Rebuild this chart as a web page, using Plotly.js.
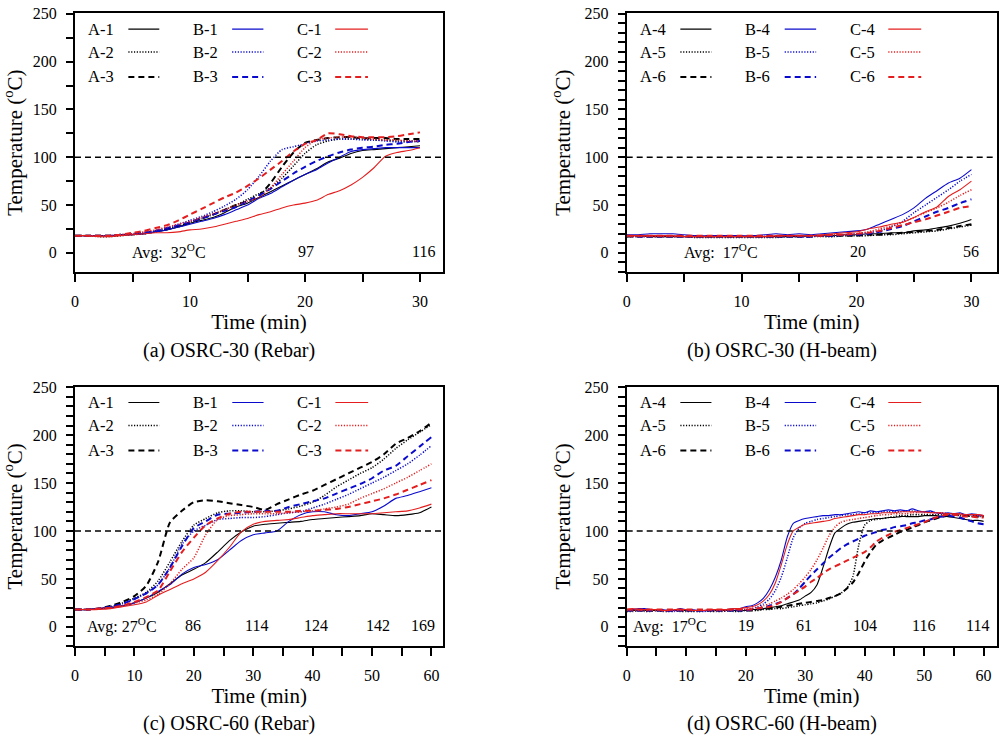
<!DOCTYPE html>
<html>
<head>
<meta charset="utf-8">
<script src="https://cdn.plot.ly/plotly-3.0.1.min.js"></script>
<style>html,body{margin:0;padding:0;background:#fff;}#chart{width:1005px;height:741px;}</style>
</head>
<body>
<div id="chart"></div>
<script>
// ---------- Data ----------
// (a) OSRC-30 (Rebar), time 0..30 min
const tA = [0,1,2,3,4,5,6,7,8,9,10,11,12,13,14,15,16,17,18,19,20,21,22,23,24,25,26,27,28,29,30];
const a_A1 = [18,18,18,18,19,19,20,22,24,27,31,34,37,42,48,52,58,64,70,76,82,88,95,99,104,107,108,109,110,111,112];
const a_A2 = [18,18,17,17,18,19,20,22,25,28,32,36,40,45,50,56,62,68,78,91,104,113,117,119,119,119,118,118,117,117,116];
const a_A3 = [18,18,18,18,19,20,21,23,25,28,32,36,40,45,50,54,60,73,90,105,115,118,120,121,121,120,120,120,119,119,119];
const a_B1 = [18,18,18,18,19,19,20,22,24,27,30,33,36,40,45,50,57,62,69,76,82,87,94,100,106,108,109,110,110,110,110];
const a_B2 = [18,18,18,18,19,20,21,23,26,30,34,38,43,49,56,66,80,96,108,111,114,117,118,119,119,118,118,117,116,116,117];
const a_B3 = [18,18,18,18,19,20,21,23,26,29,32,36,40,44,48,54,60,67,75,83,90,96,101,105,108,110,111,113,114,116,117];
const a_C1 = [18,18,17,17,18,19,20,21,21,22,24,25,27,30,33,36,40,43,47,50,52,55,61,65,71,79,89,101,105,107,110];
const a_C2 = [18,18,18,18,19,20,22,24,27,30,33,37,41,45,50,54,58,68,82,96,110,118,120,121,121,120,119,118,118,117,117];
const a_C3 = [18,18,18,18,19,21,23,26,29,34,40,46,52,58,63,70,78,87,96,106,114,118,125,124,122,121,121,121,122,124,126];

// (b) OSRC-30 (H-beam), time 0..30 min
const tB = [0,1,2,3,4,5,6,7,8,9,10,11,12,13,14,15,16,17,18,19,20,21,22,23,24,25,26,27,28,29,30];
const b_A4 = [18,18,17,17,17,17,17,17,17,17,17,17,17,17,17,17,18,18,18,19,19,20,20,21,21,23,24,26,28,31,35];
const b_A5 = [17,17,17,17,17,17,16,16,16,16,16,16,16,16,17,17,17,17,17,18,18,18,19,19,20,21,22,23,25,27,29];
const b_A6 = [17,17,17,17,17,17,17,17,17,17,17,17,17,17,17,17,17,18,18,18,18,19,19,20,21,22,23,24,26,28,30];
const b_B4 = [19,19,20,20,20,19,18,18,18,18,18,18,19,20,19,20,19,20,21,22,23,25,30,35,40,47,57,65,73,78,87];
const b_B5 = [17,17,17,17,17,17,17,17,17,17,17,17,17,17,17,17,17,18,18,19,20,21,23,27,33,42,50,58,66,75,82];
const b_B6 = [18,17,17,17,17,17,17,17,17,17,17,17,17,17,17,17,17,18,18,19,19,20,22,25,28,33,38,43,47,52,56];
const b_C4 = [18,18,18,18,18,17,17,17,17,17,17,17,17,18,18,18,18,19,20,21,22,25,27,30,32,37,43,48,59,66,75];
const b_C5 = [17,17,17,17,17,17,17,17,17,17,17,17,17,17,18,18,18,18,19,19,20,22,25,28,32,37,42,47,53,60,66];
const b_C6 = [18,18,18,18,18,18,18,18,18,18,18,18,18,18,18,18,18,18,19,19,20,21,23,26,29,32,35,39,43,47,49];

// (c) OSRC-60 (Rebar), time 0..60 min
const tC = [0,2,4,6,8,10,12,14,16,18,20,22,24,26,28,30,32,34,36,38,40,42,44,46,48,50,52,54,56,58,60];
const c_A1 = [18,18,19,20,22,25,30,36,45,54,60,67,78,90,99,105,107,108,109,110,112,113,114,115,116,118,117,116,117,119,125];
const c_A2 = [18,18,19,21,25,30,36,48,68,89,106,113,119,121,121,120,120,121,123,126,130,137,146,153,160,166,175,186,195,203,211];
const c_A3 = [18,18,19,22,26,32,43,68,109,121,130,132,131,129,127,125,122,128,133,138,142,148,154,160,166,172,180,191,197,204,213];
const c_B1 = [18,18,19,20,22,25,30,37,44,55,62,65,70,80,90,96,98,100,110,117,120,120,117,116,118,120,126,134,137,141,145];
const c_B2 = [18,18,19,21,24,29,35,44,62,86,100,106,112,113,114,114,115,117,119,120,124,128,133,138,144,150,156,163,170,179,189];
const c_B3 = [18,18,19,21,24,29,35,44,62,84,103,110,117,118,119,120,121,121,125,128,131,134,139,144,149,155,163,168,178,188,198];
const c_C1 = [18,18,18,19,21,23,26,33,39,45,50,57,69,83,99,107,110,111,112,114,116,117,118,118,118,118,119,120,121,124,128];
const c_C2 = [18,18,19,20,22,25,28,34,45,60,72,96,112,116,117,118,118,118,119,120,121,123,125,128,134,139,144,150,156,163,170];
const c_C3 = [18,18,19,20,22,26,31,38,58,78,93,106,113,118,120,120,120,120,120,121,121,122,123,125,128,131,134,138,143,148,153];

// (d) OSRC-60 (H-beam), time 0..60 min
const tD = [0,1,2,3,4,5,6,7,8,9,10,11,12,13,14,15,16,17,18,19,20,21,22,23,24,25,26,27,28,29,30,31,32,33,34,35,36,37,38,39,40,41,42,43,44,45,46,47,48,49,50,51,52,53,54,55,56,57,58,59,60];
const d_A4 = [17,17,17,17,17,17,17,17,17,17,17,17,17,17,17,17,17,17,17,17,17,18,18,19,20,21,22,24,26,28,32,36,44,62,82,98,103,107,109,110,111,112,113,113,114,114,115,115,115,115,116,116,116,115,115,114,113,112,111,111,110];
const d_A5 = [16,16,17,16,16,17,16,16,17,16,16,16,16,17,16,16,16,17,16,16,17,17,17,18,18,19,19,20,21,22,23,24,25,27,29,32,35,40,52,85,106,111,112,113,114,115,116,116,117,117,117,117,117,117,117,117,116,116,115,115,115];
const d_A6 = [17,17,17,17,17,17,17,17,17,17,17,17,17,17,17,17,17,17,17,17,17,17,18,19,19,20,21,22,23,24,25,26,27,28,30,32,35,40,46,56,68,78,86,90,93,96,99,101,104,106,109,111,113,115,116,117,117,116,116,115,115];
const d_B4 = [18,18,19,19,18,18,18,17,17,19,18,18,17,17,17,18,18,18,19,19,21,22,25,30,39,52,70,94,108,111,113,114,115,116,116,117,117,118,119,120,119,121,120,121,122,121,122,121,123,121,120,121,119,118,119,118,119,117,118,117,116];
const d_B5 = [17,17,17,17,17,17,17,16,16,17,17,17,16,16,17,17,17,17,17,18,18,19,21,24,29,38,52,72,93,103,108,110,112,113,114,115,116,117,117,118,119,119,119,120,120,120,120,121,121,120,120,120,119,119,118,118,118,117,117,116,116];
const d_B6 = [17,17,17,17,17,17,17,17,17,17,17,17,17,17,17,17,17,17,17,17,17,18,19,20,22,24,26,30,34,40,47,54,60,66,72,77,82,86,89,92,95,97,99,101,102,104,105,106,108,109,111,112,114,115,116,115,114,112,110,108,107];
const d_C4 = [18,19,18,18,18,18,17,17,18,18,18,17,17,17,18,18,18,18,19,19,20,21,23,27,34,46,65,86,100,104,107,108,109,110,111,113,114,115,116,117,117,118,118,119,119,119,120,120,120,120,120,119,119,119,118,118,118,117,117,117,116];
const d_C5 = [17,17,17,17,17,17,17,17,17,17,17,17,17,17,17,17,17,17,18,18,18,19,20,22,24,27,30,34,39,45,52,60,70,82,95,104,109,111,112,113,114,115,116,117,117,118,118,118,119,119,119,119,119,118,118,118,117,117,117,116,116];
const d_C6 = [18,18,18,18,18,18,18,18,18,18,18,18,18,18,18,18,18,18,18,18,18,18,19,20,21,23,26,30,34,38,42,47,51,56,60,63,66,69,72,75,78,83,89,93,96,99,101,103,105,107,109,112,114,116,117,117,116,115,115,114,114];

// Text
const captions = ['(a) OSRC-30 (Rebar)', '(b) OSRC-30 (H-beam)', '(c) OSRC-60 (Rebar)', '(d) OSRC-60 (H-beam)'];
const a_avgX = [8.2, 20.1, 30.3];          const a_avgT = ['Avg:&nbsp; 32<sup>O</sup>C', '97', '116'];
const b_avgX = [8.2, 20.1, 30.0];          const b_avgT = ['Avg:&nbsp; 17<sup>O</sup>C', '20', '56'];
const c_avgX = [7.9, 19.8, 30.6, 40.5, 51.0, 58.5]; const c_avgT = ['Avg: 27<sup>O</sup>C', '86', '114', '124', '142', '169'];
const d_avgX = [7.2, 20.1, 29.8, 40.1, 49.9, 59.0]; const d_avgT = ['Avg:&nbsp; 17<sup>O</sup>C', '19', '61', '104', '116', '114'];

// ---------- Build ----------
const COLORS = {A: '#000000', B: '#0a0acc', C: '#e41e1e'};
const STYLES = [
  {dash: 'solid', width: 1.1},
  {dash: '1.2px,1.6px', width: 1.5},
  {dash: '6px,4px', width: 2}
];
const FONT = 'Liberation Serif';

const panels = [
  {t: tA, nums: [1,2,3], data: {A: [a_A1,a_A2,a_A3], B: [a_B1,a_B2,a_B3], C: [a_C1,a_C2,a_C3]}, xr: [0,32], ym: 25, ax: a_avgX, at: a_avgT},
  {t: tB, nums: [4,5,6], data: {A: [b_A4,b_A5,b_A6], B: [b_B4,b_B5,b_B6], C: [b_C4,b_C5,b_C6]}, xr: [0,32.2], ym: 10, ax: b_avgX, at: b_avgT},
  {t: tC, nums: [1,2,3], data: {A: [c_A1,c_A2,c_A3], B: [c_B1,c_B2,c_B3], C: [c_C1,c_C2,c_C3]}, xr: [0,62], ym: 10, ax: c_avgX, at: c_avgT},
  {t: tD, nums: [4,5,6], data: {A: [d_A4,d_A5,d_A6], B: [d_B4,d_B5,d_B6], C: [d_C4,d_C5,d_C6]}, xr: [0,62.2], ym: 10, ax: d_avgX, at: d_avgT}
];

const W = 1005, H = 741;
const xDomPx = [[75, 443], [626.7, 996.7], [75, 443.3], [626.7, 996.7]];
const yDomPx = [[13.3, 272], [13.3, 272], [386.7, 646], [386.7, 646]];
const capPos = [[229, 350], [782, 350], [229, 723], [782, 723]];

const traces = [];
const shapes = [];
const annotations = [];
const layout = {
  width: W, height: H,
  margin: {l: 0, r: 0, t: 0, b: 0},
  paper_bgcolor: '#fff', plot_bgcolor: '#fff',
  showlegend: false,
  font: {family: FONT, size: 16, color: '#000'}
};

const legX = {A: [0.030, 0.145, 0.229], B: [0.315, 0.427, 0.512], C: [0.598, 0.707, 0.796]};
const legY = [234, 210, 184];

panels.forEach((p, i) => {
  const n = i + 1;
  const xa = 'x' + (n > 1 ? n : ''), ya = 'y' + (n > 1 ? n : '');
  const xKey = 'xaxis' + (n > 1 ? n : ''), yKey = 'yaxis' + (n > 1 ? n : '');
  ['A', 'B', 'C'].forEach(g => {
    p.data[g].forEach((vals, k) => {
      traces.push({
        type: 'scatter', mode: 'lines', x: p.t, y: vals, xaxis: xa, yaxis: ya,
        name: g + '-' + p.nums[k],
        line: {color: COLORS[g], width: STYLES[k].width, dash: STYLES[k].dash, shape: 'spline', smoothing: 0.6},
        hoverinfo: 'name+x+y'
      });
      // legend entry: text + line sample
      annotations.push({
        xref: xa + ' domain', yref: ya, x: legX[g][0], y: legY[k],
        xanchor: 'left', yanchor: 'middle', showarrow: false,
        text: g + '-' + p.nums[k], font: {family: FONT, size: 16.5, color: '#000'}
      });
      shapes.push({
        type: 'line', xref: xa + ' domain', yref: ya,
        x0: legX[g][1], x1: legX[g][2], y0: legY[k], y1: legY[k],
        line: {color: COLORS[g], width: STYLES[k].width, dash: STYLES[k].dash}
      });
    });
  });
  // 100 °C reference line
  shapes.push({
    type: 'line', xref: xa + ' domain', yref: ya, x0: 0, x1: 1, y0: 100, y1: 100,
    line: {color: '#000', width: 1.6, dash: '6px,4px'}
  });
  // average temperature labels
  p.ax.forEach((xv, k) => {
    annotations.push({
      xref: xa, yref: ya, x: xv, y: 1, xanchor: 'center', yanchor: 'middle',
      showarrow: false, text: p.at[k], font: {family: FONT, size: 16, color: '#000'}
    });
  });
  // caption
  annotations.push({
    xref: 'paper', yref: 'paper', x: capPos[i][0] / W, y: 1 - capPos[i][1] / H,
    xanchor: 'center', yanchor: 'middle', showarrow: false,
    text: captions[i], font: {family: FONT, size: 20, color: '#000'}
  });

  layout[xKey] = {
    domain: [xDomPx[i][0] / W, xDomPx[i][1] / W], anchor: ya,
    range: p.xr, tick0: 0, dtick: 10,
    ticks: 'outside', ticklen: 8, tickwidth: 2, tickcolor: '#000',
    minor: {dtick: 5, tick0: 0, ticks: 'outside', ticklen: 8, tickwidth: 2, tickcolor: '#000', showgrid: false},
    showline: true, mirror: true, linewidth: 2, linecolor: '#000',
    showgrid: false, zeroline: false, ticklabelstandoff: 6,
    tickfont: {family: FONT, size: 16, color: '#000'},
    title: {text: 'Time (min)', font: {family: FONT, size: 21, color: '#000'}, standoff: 3}
  };
  layout[yKey] = {
    domain: [1 - yDomPx[i][1] / H, 1 - yDomPx[i][0] / H], anchor: xa,
    range: [-20, 250.5], tick0: 0, dtick: 50,
    ticks: 'outside', ticklen: 7, tickwidth: 2, tickcolor: '#000',
    minor: {dtick: p.ym, tick0: 0, ticks: 'outside', ticklen: 7, tickwidth: 2, tickcolor: '#000', showgrid: false},
    showline: true, mirror: true, linewidth: 2, linecolor: '#000',
    showgrid: false, zeroline: false, ticklabelstandoff: 6,
    tickfont: {family: FONT, size: 16, color: '#000'},
    title: {text: 'Temperature (<sup>o</sup>C)', font: {family: FONT, size: 21, color: '#000'}, standoff: 8}
  };
});

layout.shapes = shapes;
layout.annotations = annotations;

Plotly.newPlot('chart', traces, layout, {displayModeBar: false, staticPlot: true});
</script>
</body>
</html>
